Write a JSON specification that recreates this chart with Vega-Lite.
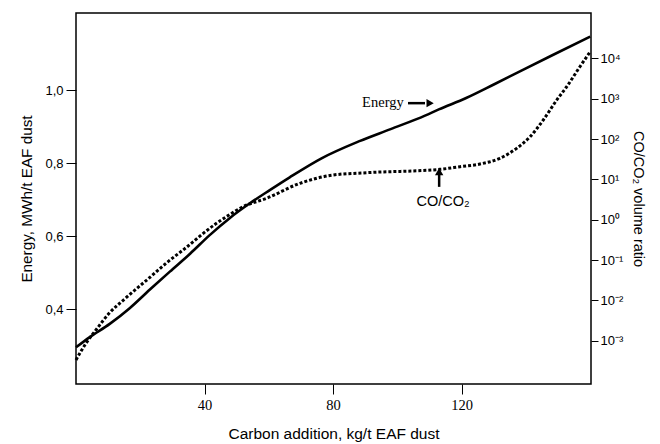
{
  "$schema": "https://vega.github.io/schema/vega-lite/v6.json",
  "autosize": {"type": "none"},
  "padding": {"left": 76, "top": 13, "right": 69, "bottom": 60},
  "width": 515,
  "height": 371,
  "background": "white",
  "config": {
    "view": {"stroke": "black", "strokeWidth": 1.5},
    "axis": {"grid": false, "domain": false, "tickColor": "black", "labelColor": "black", "titleColor": "black", "labelOverlap": false, "labelFlush": false, "titleFontWeight": "normal", "titleFont": "Liberation Sans", "titleFontSize": 15, "labelFont": "Liberation Sans", "labelFontSize": 13}
  },
  "datasets": {
    "energy": [
      {"x": 0, "E": 0.296},
      {"x": 4.3, "E": 0.324},
      {"x": 10.5, "E": 0.360},
      {"x": 16.7, "E": 0.403},
      {"x": 23.0, "E": 0.454},
      {"x": 29.2, "E": 0.503},
      {"x": 35.5, "E": 0.552},
      {"x": 41.6, "E": 0.603},
      {"x": 47.9, "E": 0.650},
      {"x": 54.1, "E": 0.690},
      {"x": 60.3, "E": 0.726},
      {"x": 66.5, "E": 0.761},
      {"x": 76.4, "E": 0.813},
      {"x": 88.2, "E": 0.860},
      {"x": 97.9, "E": 0.893},
      {"x": 108.6, "E": 0.930},
      {"x": 112.9, "E": 0.947},
      {"x": 121.4, "E": 0.978},
      {"x": 130.0, "E": 1.015},
      {"x": 138.6, "E": 1.053},
      {"x": 148.2, "E": 1.095},
      {"x": 160.0, "E": 1.146}
    ],
    "coco": [
      {"x": 0, "ratio": 0.000333},
      {"x": 3.1, "ratio": 0.000863},
      {"x": 6.2, "ratio": 0.00184},
      {"x": 10.3, "ratio": 0.00477},
      {"x": 15.5, "ratio": 0.01146},
      {"x": 23.0, "ratio": 0.0372},
      {"x": 28.0, "ratio": 0.083},
      {"x": 33.3, "ratio": 0.177},
      {"x": 43.7, "ratio": 0.813},
      {"x": 46.8, "ratio": 1.186},
      {"x": 52.0, "ratio": 2.10},
      {"x": 59.3, "ratio": 3.39},
      {"x": 69.7, "ratio": 7.98},
      {"x": 80.0, "ratio": 12.8},
      {"x": 90.4, "ratio": 14.6},
      {"x": 113.2, "ratio": 17.7},
      {"x": 119.5, "ratio": 20.6},
      {"x": 125.7, "ratio": 24.0},
      {"x": 131.9, "ratio": 33.2},
      {"x": 137.1, "ratio": 58.7},
      {"x": 141.3, "ratio": 114},
      {"x": 145.4, "ratio": 296},
      {"x": 149.6, "ratio": 927},
      {"x": 152.7, "ratio": 1982},
      {"x": 156.8, "ratio": 6194},
      {"x": 160.0, "ratio": 14590}
    ],
    "notes": [
      {"label": "Energy", "x": 95.5, "E": 0.964},
      {"label": "CO/CO₂", "x": 114.2, "E": 0.694}
    ],
    "shafts": [
      {"x": 103.3, "x2": 108.6, "E": 0.964, "E2": 0.964},
      {"x": 113.0, "x2": 113.0, "E": 0.735, "E2": 0.772}
    ],
    "heads": [
      {"x": 110.2, "E": 0.964, "dir": "right"},
      {"x": 113.0, "E": 0.777, "dir": "up"}
    ]
  },
  "encoding": {
    "x": {
      "field": "x", "type": "quantitative",
      "scale": {"domain": [0, 160.25], "nice": false, "zero": false},
      "axis": {"values": [40, 80, 120], "tickSize": 10, "labelPadding": 4, "labelFont": "Liberation Serif", "labelFontSize": 14.5, "title": "Carbon addition, kg/t EAF dust", "titleFontSize": 15.5, "titlePadding": 15}
    }
  },
  "layer": [
    {
      "encoding": {
        "y": {
          "field": "E", "type": "quantitative",
          "scale": {"domain": [0.1956, 1.2107], "nice": false, "zero": false},
          "axis": {"orient": "left", "values": [0.4, 0.6, 0.8, 1.0], "tickSize": 10, "labelPadding": 3, "labelExpr": "replace(format(datum.value, '.1f'), '.', ',')", "title": "Energy, MWh/t EAF dust", "titleFontSize": 15.3, "titlePadding": 10}
        }
      },
      "layer": [
        {
          "data": {"name": "energy"},
          "mark": {"type": "line", "color": "black", "strokeWidth": 2.6, "interpolate": "monotone"}
        },
        {
          "data": {"name": "notes"},
          "transform": [{"filter": "datum.label == 'Energy'"}],
          "mark": {"type": "text", "font": "Liberation Serif", "fontSize": 14.5, "color": "black", "align": "center", "baseline": "middle"},
          "encoding": {"text": {"field": "label"}}
        },
        {
          "data": {"name": "notes"},
          "transform": [{"filter": "datum.label != 'Energy'"}],
          "mark": {"type": "text", "font": "Liberation Sans", "fontSize": 14.5, "color": "black", "align": "center", "baseline": "middle"},
          "encoding": {"text": {"field": "label"}}
        },
        {
          "data": {"name": "shafts"},
          "mark": {"type": "rule", "color": "black", "strokeWidth": 2.5},
          "encoding": {"x2": {"field": "x2"}, "y2": {"field": "E2"}}
        },
        {
          "data": {"name": "heads"},
          "mark": {"type": "point", "filled": true, "color": "black", "opacity": 1, "size": 70},
          "encoding": {"shape": {"field": "dir", "type": "nominal", "scale": {"domain": ["right", "up"], "range": ["triangle-right", "triangle-up"]}, "legend": null}}
        }
      ]
    },
    {
      "data": {"name": "coco"},
      "mark": {"type": "line", "color": "black", "strokeWidth": 3, "strokeDash": [3, 2], "interpolate": "monotone"},
      "encoding": {
        "y": {
          "field": "ratio", "type": "quantitative",
          "scale": {"type": "log", "domain": [0.0000845, 133000], "nice": false},
          "axis": {"orient": "right", "values": [0.001, 0.01, 0.1, 1, 10, 100, 1000, 10000], "tickSize": 7, "labelPadding": 2, "labelExpr": "'10' + ['⁻³','⁻²','⁻¹','⁰','¹','²','³','⁴'][round(log(datum.value)/LN10) + 3]", "title": "CO/CO₂ volume ratio", "titleFontSize": 14.5, "titlePadding": 8}
        }
      }
    }
  ],
  "resolve": {"scale": {"y": "independent"}}
}
